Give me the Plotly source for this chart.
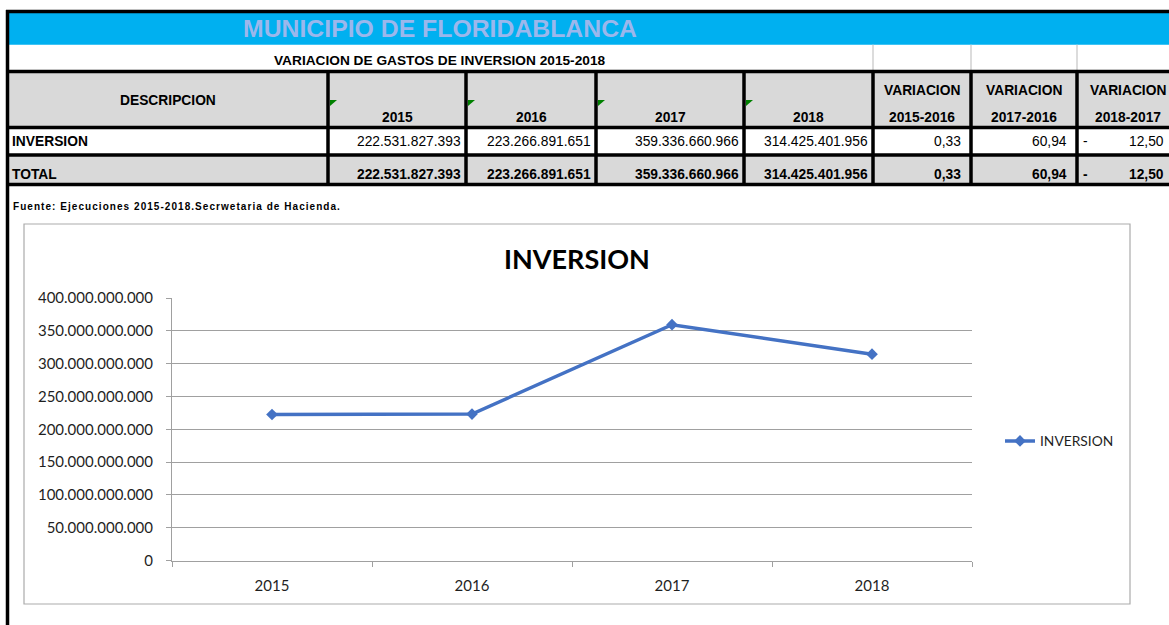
import plotly.graph_objects as go

W, H = 1169, 625

# ---------------- data ----------------
years = ["2015", "2016", "2017", "2018"]
inversion = [222531827393, 223266891651, 359336660966, 314425401956]
total = [222531827393, 223266891651, 359336660966, 314425401956]
var_labels = ["2015-2016", "2017-2016", "2018-2017"]
var_inversion = [0.33, 60.94, -12.50]
var_total = [0.33, 60.94, -12.50]
row_labels = ["INVERSION", "TOTAL"]
series_name = "INVERSION"
title_text = "MUNICIPIO DE FLORIDABLANCA"
subtitle_text = "VARIACION DE GASTOS DE INVERSION 2015-2018"
desc_header = "DESCRIPCION"
var_header = "VARIACION"
source_text = "Fuente: Ejecuciones 2015-2018.Secrwetaria de Hacienda."
chart_title = "INVERSION"

# ---------------- layout constants ----------------
TABLE_FONT = "Liberation Sans, Arial, sans-serif"
CHART_FONT = "Lato, Calibri, sans-serif"
BLACK = "#000000"
GRAY_FILL = "#D9D9D9"
BLUE = "#00B0F0"
TITLE_BLUE = "#9BB7EC"
GRID = "#A0A0A0"
LINE_BLUE = "#4472C4"

col_edges = [7.5, 328, 466, 596, 744, 873, 971, 1077, 1182]
y_top_border = 11.5
y_band_bottom = 44.7
y_head_top = 71.5
y_row1_top = 127.5
y_row2_top = 155.0
y_bottom = 184.5
BW = 3.5  # thick border width
VISIBLE_RIGHT = W - 3


def px(x):
    return x / W


def py(y):
    return 1 - y / H


def fmt_int(v):
    return f"{v:,.0f}".replace(",", ".")


def fmt_dec(v):
    s = f"{abs(v):,.2f}"
    return s.replace(",", "X").replace(".", ",").replace("X", ".")


shapes = []
annotations = []


def rect(x0, y0, x1, y1, fill, line_color=None, line_width=0, layer="below"):
    shapes.append(dict(type="rect", xref="paper", yref="paper",
                       x0=px(x0), x1=px(x1), y0=py(y1), y1=py(y0),
                       fillcolor=fill,
                       line=dict(color=line_color or fill, width=line_width),
                       layer=layer))


def seg(x0, y0, x1, y1, color, width):
    shapes.append(dict(type="line", xref="paper", yref="paper",
                       x0=px(x0), x1=px(x1), y0=py(y0), y1=py(y1),
                       line=dict(color=color, width=width), layer="above"))


def text(t, x, y, size, bold=False, color=BLACK, xanchor="center",
         family=TABLE_FONT):
    annotations.append(dict(text=t, x=px(x), y=py(y), xref="paper",
                            yref="paper", xanchor=xanchor, yanchor="middle",
                            showarrow=False,
                            font=dict(family=family, size=size, color=color,
                                      weight="bold" if bold else "normal")))


# ---- spreadsheet table ----
rect(9, 13, W + 5, y_band_bottom, BLUE)
rect(9, y_head_top, W + 5, y_row1_top, GRAY_FILL)
rect(9, y_row2_top, W + 5, y_bottom, GRAY_FILL)

# light spreadsheet gridlines in the subtitle row
for xe in col_edges[5:8]:
    seg(xe, y_band_bottom, xe, y_head_top, "#D0D0D0", 1.5)

# thick black borders
seg(6, y_top_border, W + 5, y_top_border, BLACK, BW)
for yy in (y_head_top, y_row1_top, y_row2_top, y_bottom):
    seg(6, yy, W + 5, yy, BLACK, BW)
seg(col_edges[0], 10, col_edges[0], H + 5, BLACK, BW)
for xe in col_edges[1:]:
    seg(xe, y_head_top, xe, y_bottom, BLACK, BW)

# green error-indicator triangles on year headers
for xe in col_edges[1:5]:
    x0 = xe + 2
    shapes.append(dict(type="path", xref="paper", yref="paper",
                       path=f"M {px(x0)},{py(100)} L {px(x0 + 7)},{py(100)} L {px(x0)},{py(106)} Z",
                       fillcolor="#008000", line=dict(width=0), layer="above"))

text(title_text, 440, 28.5, 24.8, bold=True, color=TITLE_BLUE)
text(subtitle_text, 440, 60.5, 13.7, bold=True)
text(desc_header, (col_edges[0] + col_edges[1]) / 2, 100, 13.8, bold=True)
for i, yr in enumerate(years):
    cx = (col_edges[1 + i] + col_edges[2 + i]) / 2
    text(yr, cx, 117.5, 13.8, bold=True)
for i, lab in enumerate(var_labels):
    cx = min((col_edges[5 + i] + col_edges[6 + i]) / 2, 1128)
    text(var_header, cx, 90, 13.8, bold=True)
    text(lab, cx, 117.5, 13.8, bold=True)

row_y = [141.5, 174.5]
row_vals = [inversion, total]
row_vars = [var_inversion, var_total]
for r in range(2):
    bold = r == 1
    text(row_labels[r], 9.5, row_y[r], 13.8, bold=True, xanchor="left")
    for i, v in enumerate(row_vals[r]):
        text(fmt_int(v), col_edges[2 + i] - 3.5, row_y[r], 13.8, bold=bold,
             xanchor="right")
    for i, v in enumerate(row_vars[r]):
        right = min(col_edges[6 + i] - 8.5, VISIBLE_RIGHT)
        text(fmt_dec(v), right, row_y[r], 13.8, bold=bold, xanchor="right")
        if v < 0:
            text("-", col_edges[5 + i] + 4, row_y[r], 13.8, bold=bold,
                 xanchor="left")

text(f"<span style='letter-spacing:1.05px'>{source_text}</span>", 11, 207,
     10, bold=True, xanchor="left")

# ---- chart frame and title ----
rect(24, 224, 1130, 604, "rgba(0,0,0,0)", line_color="#ABABAB", line_width=1.2)
text(chart_title, 577, 258, 27, bold=True, family=CHART_FONT)

# ---------------- figure ----------------
fig = go.Figure()
fig.add_trace(go.Scatter(
    x=years, y=inversion, mode="lines+markers", name=series_name,
    line=dict(color=LINE_BLUE, width=3.5),
    marker=dict(symbol="diamond", size=9, color=LINE_BLUE),
    hoverinfo="skip",
))

fig.update_layout(
    width=W, height=H, autosize=False,
    margin=dict(l=0, r=0, t=0, b=0, pad=0, autoexpand=False),
    paper_bgcolor="white", plot_bgcolor="white",
    separators=",.",
    showlegend=True,
    legend=dict(x=px(1000), y=py(441), xanchor="left", yanchor="middle",
                bgcolor="rgba(0,0,0,0)",
                font=dict(family=CHART_FONT, size=13.8, color="#1F1F1F")),
    shapes=shapes,
    annotations=annotations,
    xaxis=dict(
        type="category", domain=[px(172), px(972)], range=[-0.5, 3.5],
        tickson="boundaries", ticks="outside", ticklen=5, tickcolor=GRID,
        showline=True, linecolor=GRID, linewidth=1, showgrid=False,
        zeroline=False, ticklabelstandoff=11, automargin=False,
        tickfont=dict(family=CHART_FONT, size=15, color="#1F1F1F"),
        fixedrange=True,
    ),
    yaxis=dict(
        domain=[py(560.6), py(298)], range=[0, 4e11], tick0=0, dtick=5e10,
        tickformat=",.0f", ticks="outside", ticklen=5, tickcolor=GRID,
        showline=True, linecolor=GRID, linewidth=1,
        showgrid=True, gridcolor=GRID, gridwidth=1, zeroline=False,
        ticklabelstandoff=10, automargin=False,
        tickfont=dict(family=CHART_FONT, size=15, color="#1F1F1F"),
        fixedrange=True,
    ),
)

fig.write_html(
    "out.html",
    config={"displayModeBar": False, "responsive": False},
    post_script="document.documentElement.style.overflow='hidden';"
                "document.body.style.margin='0';"
                "document.body.style.overflow='hidden';",
)
